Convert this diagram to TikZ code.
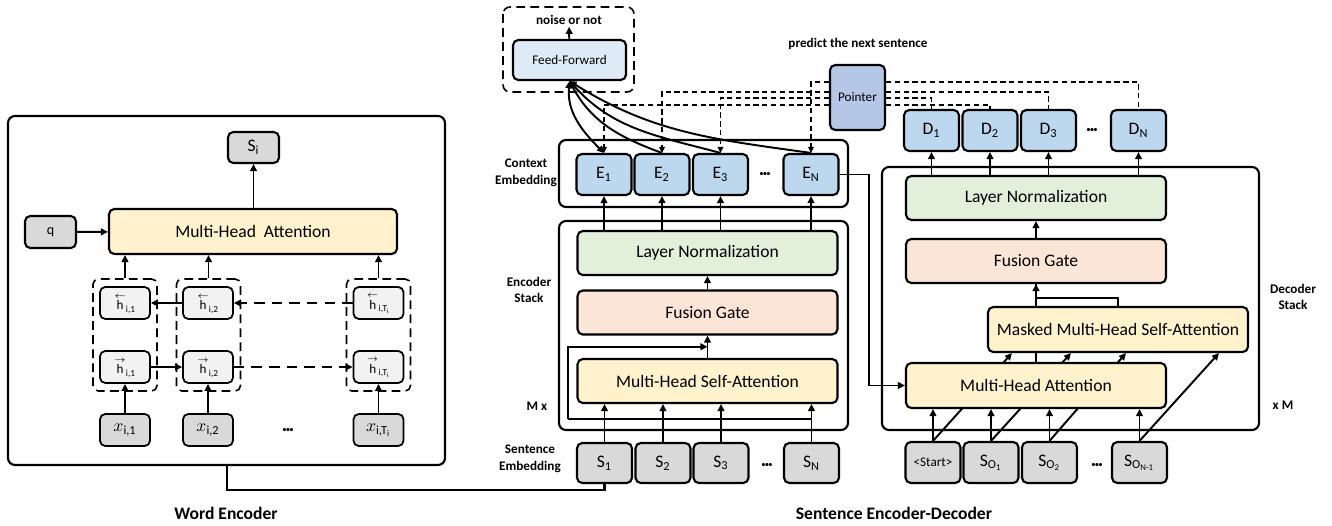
\documentclass[tikz,border=0pt]{standalone}
\usepackage{amsmath}
\usepackage{fontspec}
\setmainfont{Carlito}
\usepackage{tikz}
\usetikzlibrary{arrows.meta,positioning,calc,backgrounds}
\definecolor{attyellow}{HTML}{FFF2CC}
\definecolor{normgreen}{HTML}{E2EFDA}
\definecolor{gateorange}{HTML}{FBE5D6}
\definecolor{embblue}{HTML}{BDD7EE}
\definecolor{ffblue}{HTML}{DEEBF7}
\definecolor{ptrblue}{HTML}{B4C7E7}
\definecolor{ingray}{HTML}{D9D9D9}
\definecolor{hidgray}{HTML}{F2F2F2}
\newcommand{\hback}[1]{$\overset{\leftarrow}{\text{h}}$\textsubscript{#1}}
\newcommand{\hfwd}[1]{$\overset{\rightarrow}{\text{h}}$\textsubscript{#1}}
\newcommand{\dotrow}{\textbullet\hspace{-0.5pt}\textbullet\hspace{-0.5pt}\textbullet}

\begin{document}
\begin{tikzpicture}[x=0.02cm, y=-0.02cm,
    box/.style={rectangle, rounded corners=3pt, draw=black, line width=1.2pt, align=center, inner sep=0pt},
    wide/.style={box, minimum width=5.2cm, minimum height=0.88cm, font=\fontsize{10}{12}\selectfont},
    tok/.style={box, minimum width=1.1cm, minimum height=0.82cm, font=\fontsize{10}{12}\selectfont},
    hid/.style={box, fill=hidgray, line width=1pt, minimum width=1.0cm, minimum height=0.64cm, font=\fontsize{7.5}{8}\selectfont},
    outer/.style={rounded corners=4pt, draw=black, line width=1.2pt},
    group/.style={rectangle, rounded corners=3pt, draw=black, line width=0.9pt, dash pattern=on 5pt off 3pt, minimum width=1.28cm, minimum height=2.24cm},
    tag/.style={font=\fontsize{7.5}{9.5}\selectfont\bfseries, align=center, inner sep=1pt},
    dots/.style={font=\fontsize{5}{5}\selectfont},
    arrow/.style={-{Triangle[length=4pt,width=3.8pt]}, line width=1.1pt},
    biarrow/.style={{Triangle[length=4pt,width=3.8pt]}-{Triangle[length=4pt,width=3.8pt]}, line width=1.1pt},
    ptr/.style={line width=0.75pt, dash pattern=on 3pt off 2pt},
    ptrarrow/.style={ptr, -{Triangle[length=3.5pt,width=3.2pt]}}
]
\useasboundingbox (0,0) rectangle (1332,525);

% Word encoder
\draw[outer] (8,116) rectangle (445,465);
\node[box, fill=ingray, minimum width=1.02cm, minimum height=0.62cm, font=\fontsize{10}{12}\selectfont] (si) at (253.5,147.5) {S\textsubscript{i}};
\node[box, fill=ingray, minimum width=1.02cm, minimum height=0.64cm, font=\fontsize{8}{9}\selectfont] (q) at (50.5,232) {q};
\node[box, fill=attyellow, minimum width=5.76cm, minimum height=0.9cm, font=\fontsize{10}{12}\selectfont] (mhaw) at (253,231.5) {Multi-Head\ \ Attention};

\node[group] (g1) at (125,335) {};
\node[group] (g2) at (208.5,335) {};
\node[group] (g3) at (378.5,335) {};

\node[hid] (hb1) at (125,303) {\hback{i,1}};
\node[hid] (hb2) at (208,303) {\hback{i,2}};
\node[hid] (hbT) at (378.5,303) {\hback{i,T\textsubscript{i}}};
\node[hid] (hf1) at (125,367) {\hfwd{i,1}};
\node[hid] (hf2) at (208,367) {\hfwd{i,2}};
\node[hid] (hfT) at (378.5,367) {\hfwd{i,T\textsubscript{i}}};

\node[hid, fill=ingray, font=\fontsize{10}{11}\selectfont] (x1) at (125,430) {$x$\textsubscript{\fontsize{7}{8}\selectfont i,1}};
\node[hid, fill=ingray, font=\fontsize{10}{11}\selectfont] (x2) at (208,430) {$x$\textsubscript{\fontsize{7}{8}\selectfont i,2}};
\node[hid, fill=ingray, font=\fontsize{10}{11}\selectfont] (xT) at (378.5,430) {$x$\textsubscript{\fontsize{7}{8}\selectfont i,T\textsubscript{i}}};
\node[dots] (xdots) at (288,430) {\dotrow};

\draw[arrow] (x1) -- (hf1);
\draw[arrow] (x2) -- (hf2);
\draw[arrow] (xT) -- (hfT);
\draw[arrow] (hf1) -- (hf2);
\draw[arrow] (hb2) -- (hb1);
\draw[arrow, dash pattern=on 6pt off 4pt] (hf2) -- (hfT);
\draw[arrow, dash pattern=on 6pt off 4pt] (hbT) -- (hb2);
\draw[arrow] (g1.north) -- (g1.north |- mhaw.south);
\draw[arrow] (g2.north) -- (g2.north |- mhaw.south);
\draw[arrow] (g3.north) -- (g3.north |- mhaw.south);
\draw[arrow] (q) -- (mhaw);
\draw[arrow] (mhaw.north -| si) -- (si);

\node[font=\fontsize{10}{12}\selectfont\bfseries] (wlabel) at (226,513) {Word Encoder};
\coordinate (wout) at (227,465);

% Sentence encoder
\draw[outer] (559,140) rectangle (848,207);
\draw[outer] (559,221) rectangle (848,430);

\node[tok, fill=embblue] (e1) at (604,174.5) {E\textsubscript{1}};
\node[tok, fill=embblue] (e2) at (662,174.5) {E\textsubscript{2}};
\node[tok, fill=embblue] (e3) at (720.5,174.5) {E\textsubscript{3}};
\node[dots] (edots) at (765,174.5) {\dotrow};
\node[tok, fill=embblue] (eN) at (811,174.5) {E\textsubscript{N}};

\node[wide, fill=normgreen] (ln) at (707.5,253) {Layer Normalization};
\node[wide, fill=gateorange] (fg) at (707.5,312.5) {Fusion Gate};
\node[wide, fill=attyellow] (mhsa) at (707.5,381) {Multi-Head Self-Attention};

\node[tok, fill=ingray, minimum height=0.8cm] (s1) at (604.5,463) {S\textsubscript{1}};
\node[tok, fill=ingray, minimum height=0.8cm] (s2) at (663,463) {S\textsubscript{2}};
\node[tok, fill=ingray, minimum height=0.8cm] (s3) at (721,463) {S\textsubscript{3}};
\node[dots] (sdots) at (767,465) {\dotrow};
\node[tok, fill=ingray, minimum height=0.8cm] (sN) at (811.5,463) {S\textsubscript{N}};

\draw[arrow] (s1) -- (s1 |- mhsa.south);
\draw[arrow] (s2) -- (s2 |- mhsa.south);
\draw[arrow] (s3) -- (s3 |- mhsa.south);
\draw[arrow] (sN) -- (sN |- mhsa.south);
\coordinate (resl) at (568,419);
\draw[line width=1.1pt] (resl) -- (resl -| sN.north);
\draw[arrow] (resl) |- ($(mhsa.north)!0.5!(fg.south)$);
\draw[arrow] (mhsa) -- (fg);
\draw[arrow] (fg) -- (ln);
\draw[arrow] (e1 |- ln.north) -- (e1);
\draw[arrow] (e2 |- ln.north) -- (e2);
\draw[arrow] (e3 |- ln.north) -- (e3);
\draw[arrow] (eN |- ln.north) -- (eN);

\draw[line width=1.2pt] (wout) -- ++(0,25) -| (s1.south);

\node[tag] (lctx) at (526,173) {Context\\Embedding};
\node[tag] (lenc) at (529,290) {Encoder\\Stack};
\node[tag] (lmx) at (537,406) {M x};
\node[tag] (lsen) at (530,459) {Sentence\\Embedding};

% Noise detection head
\draw[outer, line width=0.9pt, dash pattern=on 5pt off 3pt] (503,7) rectangle (634,92);
\node[box, fill=ffblue, minimum width=2.26cm, minimum height=0.8cm, font=\fontsize{7.5}{9}\selectfont] (ff) at (569.5,60) {Feed-Forward};
\node[tag] (noise) at (569,20) {noise or not};
\draw[arrow] (ff) -- (noise);
\draw[biarrow] (ff.south) to[out=-95,in=135] (e1.north);
\draw[arrow] (e2.north) to[out=160,in=-62] (ff.south);
\draw[arrow] (e3.north) to[out=165,in=-48] (ff.south);
\draw[arrow] (eN.north) to[out=172,in=-32] (ff.south);

% Pointer
\node[tag] (lptr) at (858,44) {predict the next sentence};
\node[box, fill=ptrblue, minimum width=1.1cm, minimum height=1.3cm, font=\fontsize{7.5}{9}\selectfont] (ptr) at (857.5,97.5) {Pointer};
\draw[ptrarrow] ($(ptr.north west)+(0,18)$) -| (eN.north);
\draw[ptrarrow] ($(ptr.north west)+(0,28)$) -| (e2.north);
\draw[ptrarrow] ($(ptr.north west)+(0,34)$) -| (e3.north);
\draw[ptrarrow] ($(ptr.north west)+(0,41)$) -| (e1.north);

% Sentence decoder
\node[tok, fill=embblue] (d1) at (931.5,130.5) {D\textsubscript{1}};
\node[tok, fill=embblue] (d2) at (990,130.5) {D\textsubscript{2}};
\node[tok, fill=embblue] (d3) at (1048.5,130.5) {D\textsubscript{3}};
\node[dots] (ddots) at (1092,130.5) {\dotrow};
\node[tok, fill=embblue] (dN) at (1138.5,130.5) {D\textsubscript{N}};
\draw[ptr] ($(ptr.north east)+(0,18)$) -| (dN.north);
\draw[ptr] ($(ptr.north east)+(0,28)$) -| (d3.north);
\draw[ptr] ($(ptr.north east)+(0,34)$) -| (d1.north);
\draw[ptr] ($(ptr.north east)+(0,41)$) -| (d2.north);

\draw[outer] (882,167) rectangle (1259,430);
\node[wide, fill=normgreen] (dln) at (1036,198) {Layer Normalization};
\node[wide, fill=gateorange] (dfg) at (1036,261) {Fusion Gate};
\node[wide, fill=attyellow, minimum height=0.9cm] (dmask) at (1118,329.5) {Masked Multi-Head Self-Attention};
\node[wide, fill=attyellow, minimum height=0.9cm] (dmha) at (1036,385.5) {Multi-Head Attention};

\node[tok, fill=ingray, font=\fontsize{7.5}{9}\selectfont] (dst) at (933,462.5) {<Start>};
\node[tok, fill=ingray] (do1) at (991,462.5) {S\textsubscript{O\textsubscript{1}}};
\node[tok, fill=ingray] (do2) at (1049.5,462.5) {S\textsubscript{O\textsubscript{2}}};
\node[dots] (dsdots) at (1097,465) {\dotrow};
\node[tok, fill=ingray] (doN) at (1139.5,462.5) {S\textsubscript{O\textsubscript{N-1}}};

\begin{scope}[on background layer]
\draw[line width=1.1pt] (dmha.north) -- (dfg.south);
\draw[arrow] (dst.north) -- ($(dmask.south west)+(25,0)$);
\draw[arrow] (do1.north) -- ($(dmask.south west)+(84,0)$);
\draw[arrow] (do2.north) -- ($(dmask.south west)+(139,0)$);
\draw[arrow] (doN.north) -- ($(dmask.south west)+(232,0)$);
\end{scope}

\draw[arrow] (dst) -- (dst |- dmha.south);
\draw[arrow] (do1) -- (do1 |- dmha.south);
\draw[arrow] (do2) -- (do2 |- dmha.south);
\draw[arrow] (doN) -- (doN |- dmha.south);
\draw[arrow] (dmask.north -| dfg.south) -- (dfg.south);
\draw[line width=1.1pt] (dmask.north) -- ++(0,-8) -| (dfg.south);
\draw[arrow] (dfg) -- (dln);
\draw[arrow] (d1 |- dln.north) -- (d1);
\draw[arrow] (d2 |- dln.north) -- (d2);
\draw[arrow] (d3 |- dln.north) -- (d3);
\draw[arrow] (dN |- dln.north) -- (dN);
\draw[arrow] (eN.east) -- ++(29,0) |- (dmha.west);

\node[tag] (ldec) at (1293,297) {Decoder\\Stack};
\node[tag] (lxm) at (1283,405) {x M};
\node[font=\fontsize{10}{12}\selectfont\bfseries] (slabel) at (894,513) {Sentence Encoder-Decoder};
\end{tikzpicture}
\end{document}
